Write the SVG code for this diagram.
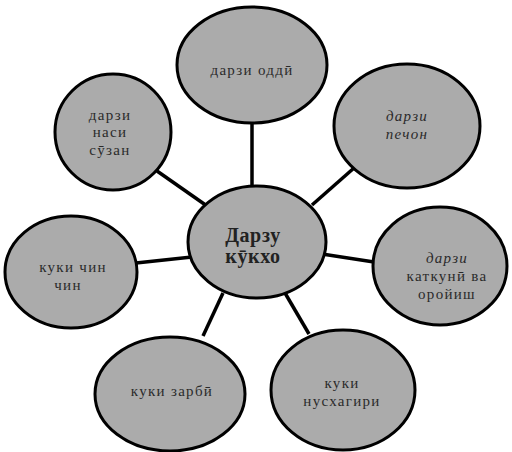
<svg xmlns="http://www.w3.org/2000/svg" width="512" height="452" viewBox="0 0 512 452">
<style>
.n{fill:#ababab;stroke:#000;stroke-width:3}
.c{stroke:#000;stroke-width:3.5;fill:none}
text{font-family:'Liberation Serif','DejaVu Serif','Times New Roman',serif;font-size:15px;letter-spacing:1.3px;fill:#2a2a2a;text-anchor:middle}
.i{font-style:italic}
.b{font-weight:bold;font-size:20px;letter-spacing:0.6px;fill:#222}
</style>
<rect width="512" height="452" fill="#fff"/>
<g id="connectors">
<line class="c" x1="252" y1="122" x2="252" y2="190"/>
<line class="c" x1="354" y1="168" x2="312" y2="205"/>
<line class="c" x1="157" y1="171" x2="207" y2="206"/>
<line class="c" x1="374" y1="262" x2="322" y2="254"/>
<line class="c" x1="136" y1="263" x2="192" y2="257"/>
<line class="c" x1="203" y1="336" x2="223" y2="293"/>
<line class="c" x1="309" y1="334" x2="285" y2="293"/>
</g>
<g id="n-top"><ellipse class="n" cx="252" cy="65" rx="75" ry="58"/><text x="252" y="75">дарзи оддӣ</text></g>
<g id="n-topright"><ellipse class="n" cx="407" cy="126" rx="73" ry="62"/><text class="i" x="407" y="121">дарзи</text><text class="i" x="407" y="139">печон</text></g>
<g id="n-topleft"><ellipse class="n" cx="113" cy="132" rx="58" ry="58"/><text x="110" y="120">дарзи</text><text x="110" y="137">наси</text><text x="110" y="155">сӯзан</text></g>
<g id="n-center"><ellipse class="n" cx="257" cy="242" rx="69" ry="56"/><text class="b" x="253" y="242">Дарзу</text><text class="b" x="253" y="263">кӯкхо</text></g>
<g id="n-right"><ellipse class="n" cx="440" cy="266" rx="67" ry="59"/><text class="i" x="447" y="263">дарзи</text><text x="447" y="281">каткунӣ ва</text><text x="447" y="299">оройиш</text></g>
<g id="n-left"><ellipse class="n" cx="71" cy="272" rx="66" ry="56"/><text x="73" y="272">куки чин</text><text x="68" y="290">чин</text></g>
<g id="n-bottomleft"><ellipse class="n" cx="170" cy="394" rx="75" ry="57"/><text x="172" y="396">куки зарбӣ</text></g>
<g id="n-bottomright"><ellipse class="n" cx="343" cy="390" rx="72" ry="60"/><text x="342" y="388">куки</text><text x="342" y="406">нусхагири</text></g>
</svg>
